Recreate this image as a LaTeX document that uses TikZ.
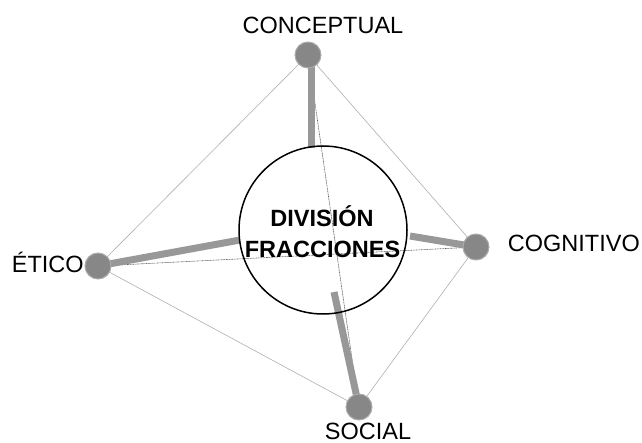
\documentclass[tikz,border=0pt]{standalone}
\usepackage{fontspec}
\setmainfont{Liberation Sans}
\definecolor{dotfill}{RGB}{135,135,135}
\definecolor{dotrim}{RGB}{172,172,172}
\definecolor{barcol}{RGB}{152,152,152}
\definecolor{edgecol}{RGB}{175,175,175}
\definecolor{axiscol}{RGB}{95,95,95}
\begin{document}
\begin{tikzpicture}[x=1pt,y=-1pt,
  vertex/.style={circle,fill=dotfill,draw=dotrim,line width=1pt,minimum size=26pt,inner sep=0pt},
  label/.style={font=\fontsize{23.5}{28}\selectfont,inner sep=0pt},
  hub/.style={circle,draw=black,line width=1.5pt,minimum size=168pt,inner sep=0pt},
  hubtext/.style={font=\fontsize{23.5}{28}\selectfont\bfseries,inner sep=0pt,anchor=base},
  rim/.style={draw=edgecol,line width=0.6pt},
  axis/.style={draw=axiscol,line width=0.6pt,dash pattern=on 1pt off 0.6pt},
  bar/.style={draw=barcol,line width=7pt}]
\useasboundingbox (0,0) rectangle (642,443);
% positions of the four dimensions and the central theme
\coordinate (pc) at (308,55);
\coordinate (pe) at (98,266);
\coordinate (pg) at (476,247);
\coordinate (ps) at (359,407);
% ends of the weight bars
\coordinate (bc) at (311,148);
\coordinate (be) at (240,240);
\coordinate (bg) at (410,236);
\coordinate (bs) at (334,292);
% outer quadrilateral
\draw[rim] (pc) -- (pg) -- (ps) -- (pe) -- cycle;
% diagonals
\draw[axis] (pc) -- (ps);
\draw[axis] (pe) -- (pg);
% weight bars
\draw[bar] (pc) -- ([xshift=3pt]pc) -- (bc);
\draw[bar] (pe) -- (be);
\draw[bar] (pg) -- (bg);
\draw[bar] (ps) -- (bs);
% central theme
\node[hub] (hub) at (323,230) {};
\node[hubtext] (t1) at (322,226.7) {DIVISIÓN};
\node[hubtext] (t2) at (322.5,258) {FRACCIONES};
% dimension dots
\node[vertex] (c) at (pc) {};
\node[vertex] (e) at (pe) {};
\node[vertex] (g) at (pg) {};
\node[vertex] (s) at (ps) {};
% labels
\node[label,anchor=base] (lc) at (323,34) {CONCEPTUAL};
\node[label,anchor=base west] (le) at (11.7,273) {ÉTICO};
\node[label,anchor=base west] (lg) at (507.7,252) {COGNITIVO};
\node[label,anchor=base] (ls) at (368,439.5) {SOCIAL};
\end{tikzpicture}
\end{document}
